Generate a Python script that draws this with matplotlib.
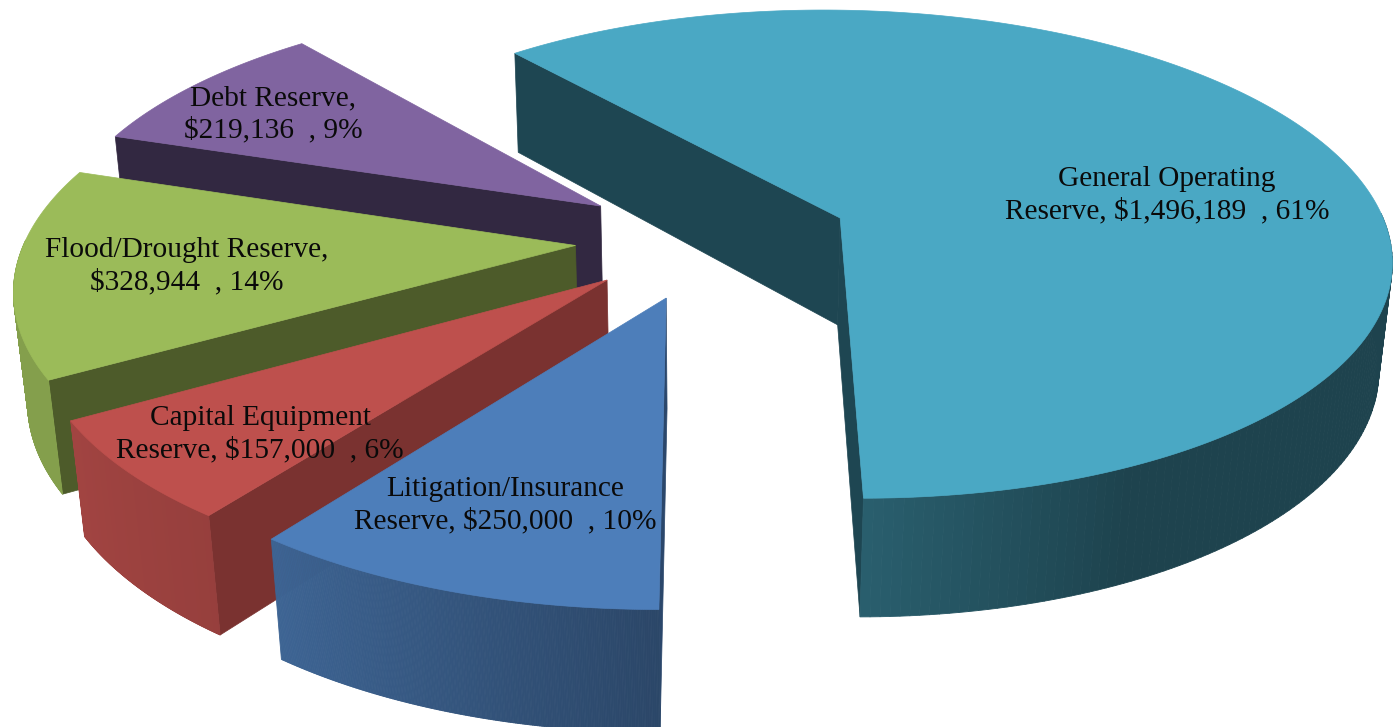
import numpy as np
from matplotlib import pyplot as plt
from matplotlib.collections import PolyCollection

names = ["General Operating Reserve", "Litigation/Insurance Reserve", "Capital Equipment Reserve",
         "Flood/Drought Reserve", "Debt Reserve"]
amounts = [1496189, 250000, 157000, 328944, 219136]
labels = ["General Operating\nReserve, $1,496,189  , 61%",
          "Litigation/Insurance\nReserve, $250,000  , 10%",
          "Capital Equipment\nReserve, $157,000  , 6%",
          "Flood/Drought Reserve,\n$328,944  , 14%",
          "Debt Reserve,\n$219,136  , 9%"]
label_pos = [(1167, 195.5), (505, 505.5), (260, 434.5), (187, 266.5), (273, 114.5)]
top_colors = [(74, 168, 196), (77, 126, 186), (190, 80, 77), (155, 187, 89), (128, 100, 160)]
wall_colors = [(30, 70, 82), (43, 71, 107), (122, 50, 48), (77, 91, 42), (50, 40, 65)]

# camera / pie shape, in pixels
cx, cy = 710, 239
rx, ry = 550, 245
depth = 110
persp = 0.15
persp_z = 0.02
explode = [0.255, 0.245, 0.245, 0.245, 0.245]
start_angle = -39.8

# brightness of the outer wall by angle (clockwise from north)
shade_ang = [90, 155, 180, 216, 240, 275]
shade_val = [0.40, 0.40, 0.56, 0.79, 0.85, 0.85]


def project(x, y, z):
    w = 1 + persp * y + persp_z * z
    return cx + rx * x / w, cy + (-ry * y + depth * z) / w


def signed_area(pts):
    pts = np.array(pts)
    a, b = pts[:, 0], pts[:, 1]
    return np.sum(a * np.roll(b, -1) - np.roll(a, -1) * b)


def rgb(c, f=1.0):
    return tuple(min(1, v * f / 255) for v in c)


fig = plt.figure(figsize=(13.94, 7.27), dpi=100)
ax = fig.add_axes([0, 0, 1, 1])
ax.set_xlim(0, 1394)
ax.set_ylim(727, 0)
ax.axis('off')

shares = np.array(amounts) / sum(amounts) * 360
edges = start_angle + np.concatenate([[0], np.cumsum(shares)])

# back to front: General first, then round from Debt to Litigation
for order, i in enumerate([0, 4, 3, 2, 1]):
    a0, a1 = edges[i], edges[i + 1]
    mid = np.radians((a0 + a1) / 2)
    ox, oy = explode[i] * np.sin(mid), explode[i] * np.cos(mid)
    ang = np.linspace(a0, a1, 240)
    px = ox + np.sin(np.radians(ang))
    py = oy + np.cos(np.radians(ang))
    top = np.array(project(px, py, 0)).T
    bot = np.array(project(px, py, 1)).T
    v_top = project(ox, oy, 0)
    v_bot = project(ox, oy, 1)

    # flat cut faces
    q0 = [v_top, top[0], bot[0], v_bot]
    q1 = [v_top, top[-1], bot[-1], v_bot]
    if signed_area(q0) < 0:
        ax.fill(*zip(*q0), color=rgb(wall_colors[i]), lw=0.5, zorder=order)
    if signed_area(q1) > 0:
        ax.fill(*zip(*q1), color=rgb(wall_colors[i]), lw=0.5, zorder=order)

    # curved wall, only the part that faces the viewer
    polys, cols = [], []
    for j in range(len(ang) - 1):
        m = (ang[j] + ang[j + 1]) / 2
        if np.cos(np.radians(m)) > 0.02:
            continue
        polys.append([top[j], top[j + 1], bot[j + 1], bot[j]])
        cols.append(rgb(top_colors[i], np.interp(m, shade_ang, shade_val)))
    if polys:
        ax.add_collection(PolyCollection(polys, facecolors=cols, edgecolors=cols, linewidths=0.6, zorder=order))

    ax.fill(*zip(v_top, *top), color=rgb(top_colors[i]), lw=0.5, zorder=order)

for lab, (lx, ly) in zip(labels, label_pos):
    ax.text(lx, ly, lab, ha='center', va='center', family='Liberation Serif', fontsize=21.2,
            color='#0a0a0a', linespacing=1.27, zorder=20)

fig.savefig("out.png", dpi=100)
